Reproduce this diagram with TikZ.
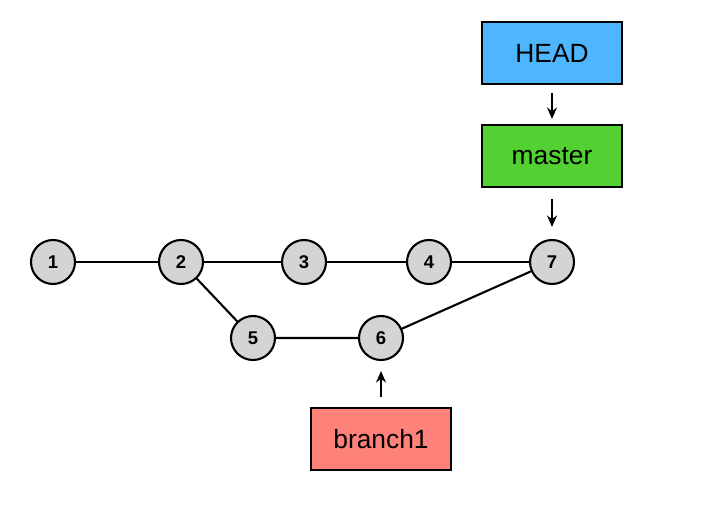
\documentclass[tikz,border=0pt]{standalone}
\usepackage{fontspec}
\setmainfont{Liberation Sans}
\usetikzlibrary{arrows.meta}
\definecolor{headB}{RGB}{77,182,255}
\definecolor{masterG}{RGB}{84,209,50}
\definecolor{branchR}{RGB}{255,130,122}
\definecolor{commitG}{RGB}{212,212,212}

\begin{document}
\begin{tikzpicture}[x=0.02cm,y=-0.02cm,line width=1.2pt,>={Stealth[length=2.3mm,width=2mm]},
  commit/.style={circle,draw,fill=commitG,minimum size=0.88cm,inner sep=0pt,font=\fontsize{10.5}{12}\selectfont\bfseries},
  refbox/.style={draw,minimum width=2.8cm,minimum height=1.24cm,inner sep=0pt,font=\fontsize{15}{18}\selectfont}]
\useasboundingbox (0,0) rectangle (719,519);
% commits
\node[commit] (c1) at (53,262) {1};
\node[commit] (c2) at (181,262) {2};
\node[commit] (c3) at (304,262) {3};
\node[commit] (c4) at (429,262) {4};
\node[commit] (c7) at (552,262) {7};
\node[commit] (c5) at (253,338) {5};
\node[commit] (c6) at (381,338) {6};
\draw (c1)--(c2)--(c3)--(c4)--(c7);
\draw (c2)--(c5)--(c6)--(c7);
% refs
\node[refbox,fill=headB] (head) at (552,53) {HEAD};
\node[refbox,fill=masterG] (master) at (552,156) {master};
\node[refbox,fill=branchR] (branch1) at (381,439) {branch1};
\draw[->,shorten <=0.16cm,shorten >=0.1cm] (head)--(master);
\draw[->,shorten <=0.22cm,shorten >=0.24cm] (master)--(c7);
\draw[->,shorten <=0.2cm,shorten >=0.2cm] (branch1)--(c6);
\end{tikzpicture}
\end{document}
